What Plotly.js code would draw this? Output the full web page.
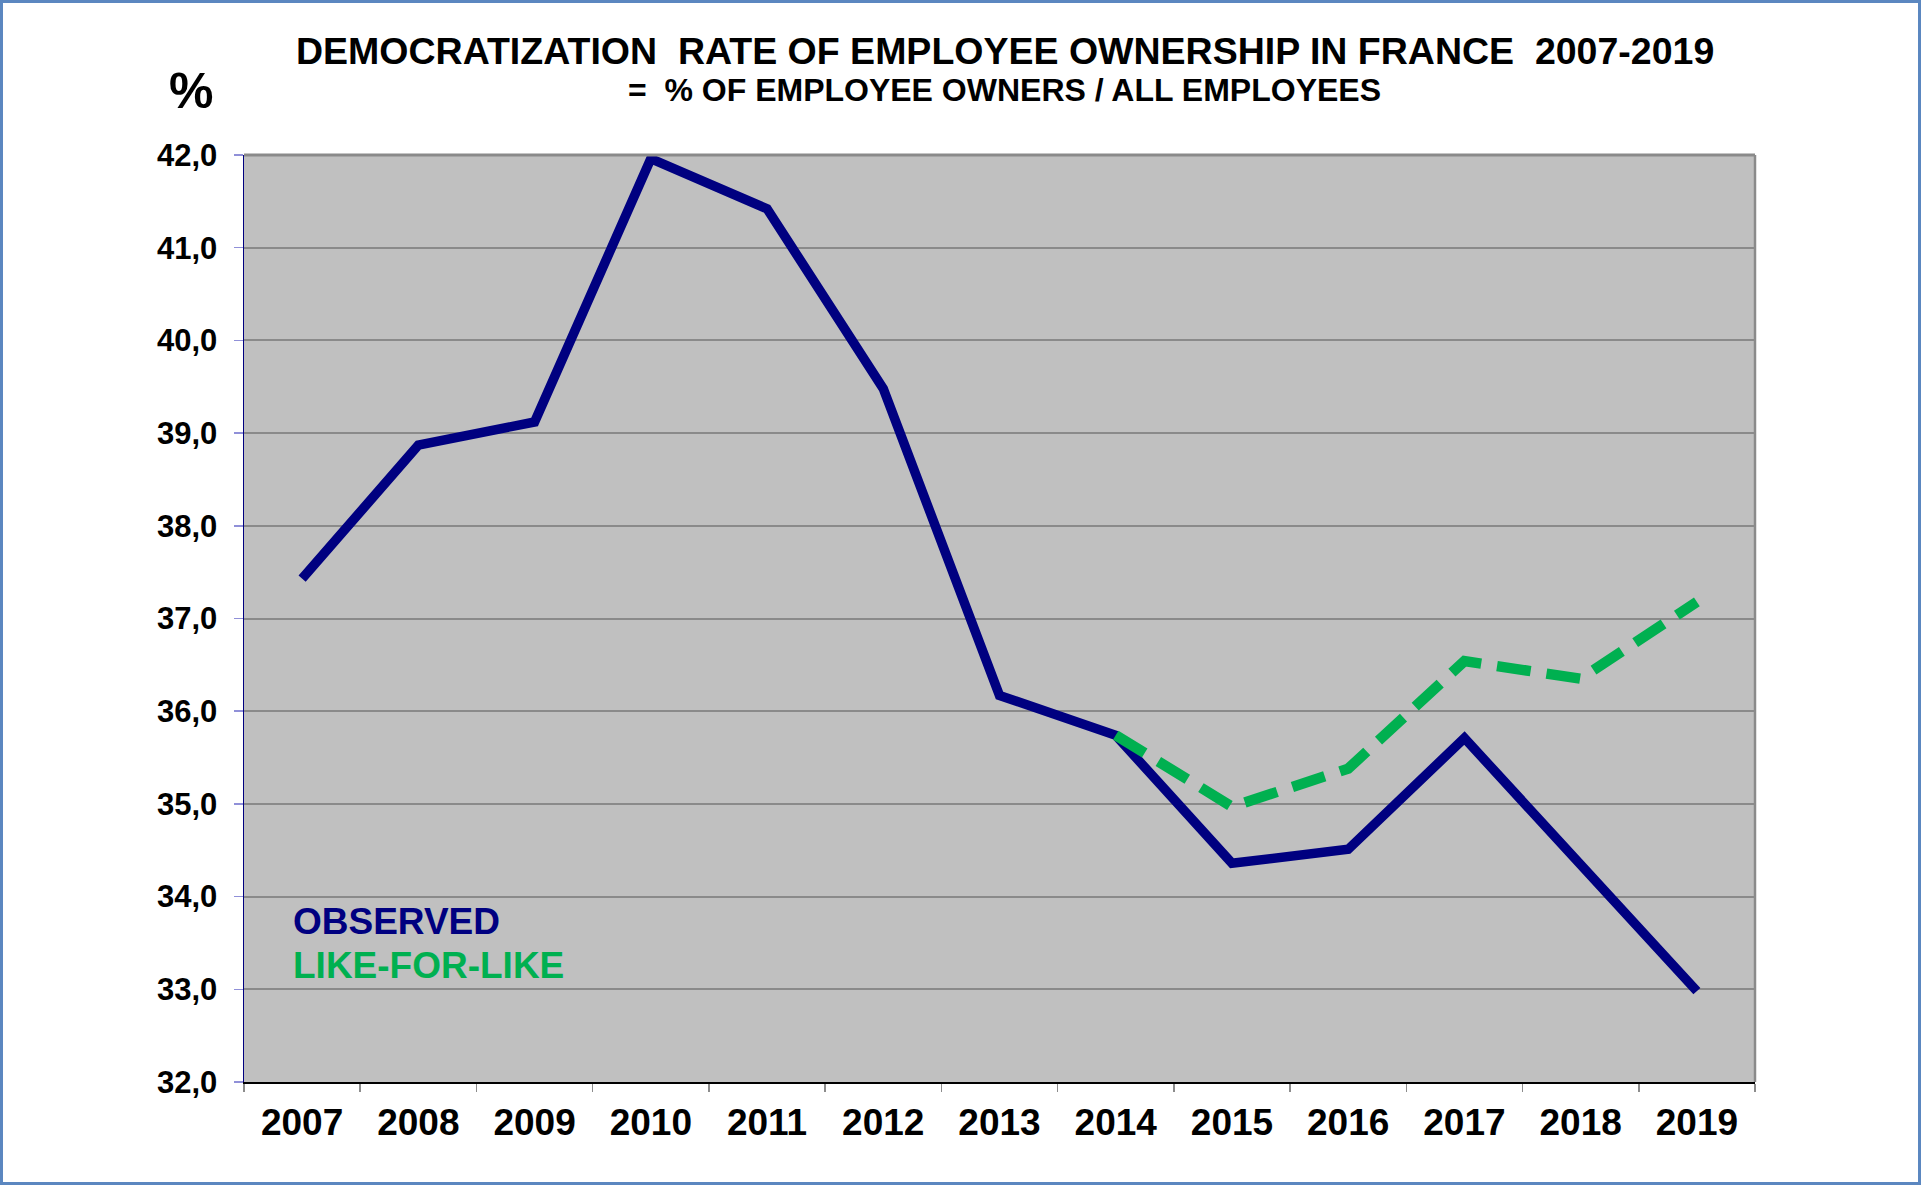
<!DOCTYPE html>
<html>
<head>
<meta charset="utf-8">
<script src="https://cdn.plot.ly/plotly-3.0.1.min.js"></script>
<style>
  html, body { margin: 0; padding: 0; background: #ffffff; }
  #wrap { position: relative; width: 1921px; height: 1185px; }
  #chart { position: absolute; left: 0; top: 0; width: 1921px; height: 1185px; }
  #frame { position: absolute; left: 0; top: 0; width: 1921px; height: 1185px;
           box-sizing: border-box; border: 3px solid #5B87C0; pointer-events: none; }
</style>
</head>
<body>
<div id="wrap">
  <div id="chart"></div>
  <div id="frame"></div>
</div>
<script>
// ---- data ----
const years = ["2007","2008","2009","2010","2011","2012","2013","2014","2015","2016","2017","2018","2019"];
const observed = [37.43, 38.87, 39.12, 41.96, 41.42, 39.48, 36.17, 35.74, 34.36, 34.51, 35.71, 34.35, 32.98];
const likeYears = ["2014","2015","2016","2017","2018","2019"];
const likeForLike = [35.74, 34.97, 35.38, 36.54, 36.35, 37.18];
const yTicks = [32, 33, 34, 35, 36, 37, 38, 39, 40, 41, 42];

const titleText = "DEMOCRATIZATION&nbsp;&nbsp;RATE OF EMPLOYEE OWNERSHIP IN FRANCE&nbsp;&nbsp;2007-2019";
const subtitleText = "=&nbsp;&nbsp;% OF EMPLOYEE OWNERS / ALL EMPLOYEES";
const seriesNames = ["OBSERVED", "LIKE-FOR-LIKE"];

// ---- layout geometry (pixels) ----
const W = 1921, H = 1185;
const M = { l: 244, r: 166, t: 155, b: 103 };
const plotW = W - M.l - M.r, plotH = H - M.t - M.b;
const px = x => (x - M.l) / plotW;
const py = y => (H - M.b - y) / plotH;

const FONT = "Liberation Sans, Arial, sans-serif";
const NAVY = "#000080", GREEN = "#00B050";

const traces = [
  {
    x: years, y: observed, type: "scatter", mode: "lines", name: seriesNames[0],
    line: { color: NAVY, width: 9.5 }, hoverinfo: "x+y"
  },
  {
    x: likeYears, y: likeForLike, type: "scatter", mode: "lines", name: seriesNames[1],
    line: { color: GREEN, width: 10.5, dash: "34px,16px" }, hoverinfo: "x+y"
  }
];

const layout = {
  width: W, height: H,
  margin: M,
  paper_bgcolor: "#ffffff",
  plot_bgcolor: "#C0C0C0",
  showlegend: false,
  separators: ", ",
  font: { family: FONT, color: "#000000" },
  xaxis: {
    type: "category",
    categoryorder: "array", categoryarray: years,
    range: [-0.5, years.length - 0.5],
    tickson: "boundaries",
    ticks: "outside", ticklen: 8, tickwidth: 1.5, tickcolor: "#8c8c8c",
    showline: true, linecolor: "#000000", linewidth: 2,
    showgrid: false, zeroline: false,
    ticklabelstandoff: 7,
    tickfont: { family: FONT, size: 37, color: "#000000", weight: "bold" },
    fixedrange: true
  },
  yaxis: {
    range: [32, 42],
    tickmode: "array", tickvals: yTicks,
    tickformat: ".1f",
    ticks: "outside", ticklen: 9, tickwidth: 1.5, tickcolor: "#9090D8",
    showline: true, linecolor: "#000080", linewidth: 1.5,
    showgrid: true, gridcolor: "#8a8a8a", gridwidth: 2,
    zeroline: false,
    ticklabelstandoff: 10,
    tickfont: { family: FONT, size: 31, color: "#000000", weight: "bold" },
    fixedrange: true
  },
  shapes: [
    { type: "line", xref: "paper", yref: "paper", x0: 1, x1: 1, y0: 0, y1: 1,
      line: { color: "#8a8a8a", width: 2.5 } },
    { type: "line", xref: "paper", yref: "paper", x0: 0, x1: 1, y0: 1, y1: 1,
      line: { color: "#8a8a8a", width: 3 } }
  ],
  annotations: [
    { text: titleText, xref: "paper", yref: "paper", x: px(1005), y: py(51),
      xanchor: "center", yanchor: "middle", showarrow: false,
      font: { family: FONT, size: 37.5, color: "#000000", weight: "bold" } },
    { text: subtitleText, xref: "paper", yref: "paper", x: px(1004), y: py(90),
      xanchor: "center", yanchor: "middle", showarrow: false,
      font: { family: FONT, size: 32, color: "#000000", weight: "bold" } },
    { text: "%", xref: "paper", yref: "paper", x: px(167), y: py(91),
      xanchor: "left", yanchor: "middle", showarrow: false,
      font: { family: FONT, size: 50, color: "#000000", weight: "bold" } },
    { text: seriesNames[0], xref: "paper", yref: "paper", x: px(291), y: py(921),
      xanchor: "left", yanchor: "middle", showarrow: false,
      font: { family: FONT, size: 37, color: NAVY, weight: "bold" } },
    { text: seriesNames[1], xref: "paper", yref: "paper", x: px(291), y: py(965),
      xanchor: "left", yanchor: "middle", showarrow: false,
      font: { family: FONT, size: 37, color: GREEN, weight: "bold" } }
  ]
};

Plotly.newPlot("chart", traces, layout, { displayModeBar: false, staticPlot: true });
</script>
</body>
</html>
